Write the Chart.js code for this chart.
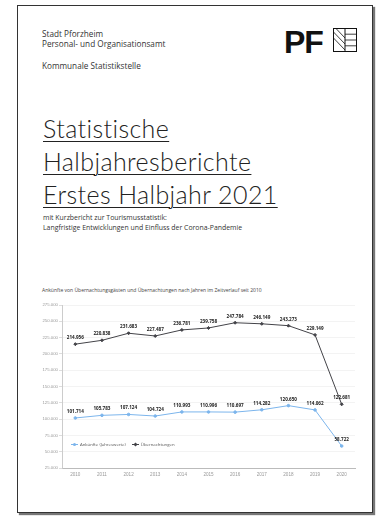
<!DOCTYPE html>
<html>
<head>
<meta charset="utf-8">
<script src="https://cdn.jsdelivr.net/npm/chart.js@4.4.1/dist/chart.umd.min.js"></script>
<style>
    html, body { margin:0; padding:0; background:#fff; }
    body { width:382px; height:516px; position:relative; overflow:hidden; font-family:"Open Sans", "Noto Sans", sans-serif; color:#222; }
    .page { position:absolute; left:17px; top:5px; width:354px; height:506px; border:1.5px solid #333; box-shadow:2px 2px 1px #777; background:#fff; }
    .abs { position:absolute; white-space:nowrap; }
    .head { font-size:8.2px; line-height:10px; color:#333; }
    .title { font-family:"Lato", sans-serif; font-weight:300; font-size:25px; line-height:33px; letter-spacing:0.4px; text-decoration:underline; text-decoration-thickness:1px; text-underline-offset:3px; color:#222; }
    .sub { font-size:6.9px; line-height:10px; color:#333; }
    .ctitle { font-size:5px; color:#444; }
    .logo { font-family:"Liberation Sans", Arial, sans-serif; font-weight:bold; font-size:32px; letter-spacing:-1px; color:#111; line-height:1; }
    #legend { font-size:4.3px; color:#555; display:flex; gap:6px; align-items:center; }
    #legend span.item { display:flex; align-items:center; gap:2px; }
    #legend i { display:inline-block; width:7px; height:1px; position:relative; }
    #legend b { position:absolute; left:2px; top:-1px; width:3px; height:3px; }
    #wrap { position:absolute; left:30px; top:300px; width:330px; height:180px; }
</style>
</head>
<body>
<div class="page"></div>

<div class="abs head" style="left:42px; top:29px;">Stadt Pforzheim<br>Personal- und Organisationsamt</div>
<div class="abs head" style="left:42px; top:61px;">Kommunale Statistikstelle</div>

<div class="abs logo" style="left:284px; top:26px;">PF</div>
<svg class="abs" style="left:333px; top:28px;" width="24" height="24" viewBox="0 0 24 24">
    <rect x="0.5" y="0.5" width="23" height="23" fill="none" stroke="#111" stroke-width="1"/>
    <line x1="12" y1="0.5" x2="12" y2="23.5" stroke="#111" stroke-width="1"/>
    <line x1="12" y1="6.2" x2="23.5" y2="6.2" stroke="#111" stroke-width="0.8"/>
    <line x1="12" y1="12" x2="23.5" y2="12" stroke="#111" stroke-width="0.8"/>
    <line x1="12" y1="17.8" x2="23.5" y2="17.8" stroke="#111" stroke-width="0.8"/>
    <line x1="0.5" y1="4" x2="12" y2="16" stroke="#111" stroke-width="0.8"/>
    <line x1="0.5" y1="10" x2="12" y2="22" stroke="#111" stroke-width="0.8"/>
    <line x1="3" y1="0.5" x2="12" y2="10" stroke="#111" stroke-width="0.8"/>
</svg>

<div class="abs title" style="left:43px; top:112px;">Statistische<br>Halbjahresberichte<br>Erstes Halbjahr 2021</div>

<div class="abs sub" style="left:43px; top:213px;">mit Kurzbericht zur Tourismusstatistik:<br>Langfristige Entwicklungen und Einfluss der Corona-Pandemie</div>

<div class="abs ctitle" style="left:42px; top:287px;">Ankünfte von Übernachtungsgästen und Übernachtungen nach Jahren im Zeitverlauf seit 2010</div>

<div id="wrap"><canvas id="chart"></canvas></div>
<div id="legend" class="abs" style="left:71px; top:441px;"></div>

<script>
    var years = ['2010', '2011', '2012', '2013', '2014', '2015', '2016', '2017', '2018', '2019', '2020'];
    var arrivals = [101714, 105783, 107124, 104724, 110993, 110996, 110697, 114282, 120650, 114062, 58722];
    var overnights = [214956, 220838, 231683, 227487, 236781, 239758, 247784, 246149, 243273, 229149, 122681];
    var yTicks = [25000, 50000, 75000, 100000, 125000, 150000, 175000, 200000, 225000, 250000, 275000];

    function fmt(n) {
        return String(n).replace(/\B(?=(\d{3})+(?!\d))/g, '.');
    }

    // value labels above each point
    var valueLabels = {
        id: 'valueLabels',
        afterDatasetsDraw: function (chart) {
            var ctx = chart.ctx;
            ctx.save();
            ctx.font = 'bold 4.6px "Open Sans", sans-serif';
            ctx.fillStyle = '#222';
            ctx.textAlign = 'center';
            ctx.textBaseline = 'bottom';
            chart.data.datasets.forEach(function (ds, i) {
                var meta = chart.getDatasetMeta(i);
                meta.data.forEach(function (pt, j) {
                    ctx.fillText(fmt(ds.data[j]), pt.x, pt.y - 4);
                });
            });
            ctx.restore();
        }
    };

    var chart = new Chart(document.getElementById('chart'), {
        type: 'line',
        data: {
            labels: years,
            datasets: [
                {
                    label: 'Ankünfte (Jahreswerte)',
                    data: arrivals,
                    borderColor: '#7cb5ec',
                    backgroundColor: '#7cb5ec',
                    borderWidth: 1,
                    pointStyle: 'circle',
                    pointRadius: 1.3,
                    tension: 0
                },
                {
                    label: 'Übernachtungen',
                    data: overnights,
                    borderColor: '#434348',
                    backgroundColor: '#434348',
                    borderWidth: 1,
                    pointStyle: 'rectRot',
                    pointRadius: 1.5,
                    tension: 0
                }
            ]
        },
        options: {
            responsive: true,
            maintainAspectRatio: false,
            animation: false,
            layout: { padding: { top: 5, right: 3, left: 0, bottom: 0 } },
            plugins: {
                legend: { display: false },
                tooltip: { enabled: false }
            },
            scales: {
                x: {
                    offset: true,
                    grid: { display: false, drawTicks: false },
                    border: { display: true, color: '#bbb', width: 1 },
                    ticks: { color: '#999', font: { size: 4.6 }, padding: 4, maxRotation: 0 },
                    afterFit: function (s) { s.height = 12; }
                },
                y: {
                    min: 25000,
                    max: 275000,
                    afterBuildTicks: function (s) { s.ticks = yTicks.map(function (v) { return { value: v }; }); },
                    grid: { color: '#e6e6e6', lineWidth: 0.5, tickLength: 3, tickColor: '#bbb' },
                    border: { display: true, color: '#ccc', width: 1 },
                    ticks: { color: '#999', font: { size: 4.3 }, padding: 1, callback: function (v) { return fmt(v); } },
                    afterFit: function (s) { s.width = 32; }
                }
            }
        },
        plugins: [valueLabels]
    });

    // legend inside the plot, built from the datasets
    var legend = document.getElementById('legend');
    chart.data.datasets.forEach(function (ds) {
        var item = document.createElement('span');
        item.className = 'item';
        var round = ds.pointStyle === 'circle';
        item.innerHTML = '<i style="background:' + ds.borderColor + '"><b style="background:' + ds.borderColor +
            (round ? ';border-radius:50%' : ';transform:rotate(45deg)') + '"></b></i>' + ds.label;
        legend.appendChild(item);
    });
</script>
</body>
</html>
